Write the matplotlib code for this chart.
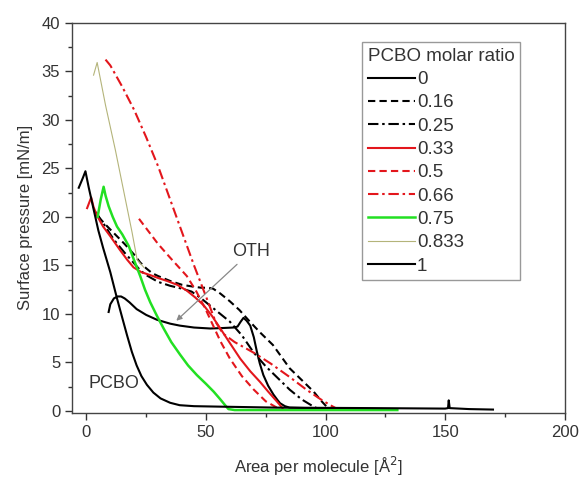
import numpy as np
import matplotlib
matplotlib.use('Agg')
import matplotlib.pyplot as plt
from matplotlib.ticker import MultipleLocator

plt.rcParams['font.family'] = ['Liberation Sans', 'DejaVu Sans']

# -----------------------------------------------------------------------------------
# DATA (read from the reference isotherms)
# -----------------------------------------------------------------------------------
# 0 (OTH)
x_00 = [9.3, 10, 11.5, 13, 14.5, 16, 18, 21, 25, 29.5, 35, 39, 45, 51.8, 57, 61.5, 63.2, 64.5, 65.7, 67, 68.5,
        70, 71.3, 72.5, 74, 76, 78.2, 80, 81, 83, 85, 100, 120]
y_00 = [10.2, 11.0, 11.6, 11.8, 11.8, 11.6, 11.2, 10.5, 9.9, 9.4, 9.0, 8.8, 8.6, 8.5, 8.55, 8.6, 8.7, 9.2, 9.6, 9.3, 8.8,
        7.6, 6.1, 4.9, 3.7, 2.6, 1.7, 1.1, 0.8, 0.5, 0.35, 0.25, 0.2]
# 0.16
x_016 = [5, 8, 12, 16, 20, 22.5, 25, 27.5, 30, 35, 40, 45, 48, 51, 53, 56, 60, 64, 68, 72.6, 78, 85, 90, 95, 98, 101]
y_016 = [20, 19.2, 18.2, 17.2, 16.1, 15.3, 14.7, 14.2, 13.9, 13.4, 13.0, 12.8, 12.7, 12.7, 12.6, 12.1, 11.3, 10.4, 9.3,
         8.1, 6.8, 4.4, 3.2, 2.0, 1.1, 0.3]
# 0.25
x_025 = [4, 6, 8, 10, 12, 16, 20, 22.5, 25, 30, 35, 40, 44, 48, 52, 56, 60, 65, 70, 75, 80, 85, 90, 94, 97]
y_025 = [20.5, 19.7, 19, 18.2, 17.5, 16.3, 15.2, 14.5, 14.0, 13.3, 12.9, 12.6, 12.3, 11.6, 10.8, 10.0, 9.2, 7.8, 6.0,
         4.6, 3.4, 2.2, 1.2, 0.6, 0.2]
# 0.33
x_033 = [0.3, 2, 3, 4.5, 7, 10, 14, 17, 19.7, 23, 26.7, 30, 33.7, 38, 42, 45.5, 49, 52.5, 56, 60, 64.3, 68.5, 72.6,
         76, 79.6, 82]
y_033 = [20.9, 22, 21, 20.1, 19, 18, 16.6, 15.6, 14.8, 14.3, 14.0, 13.7, 13.4, 13.0, 12.4, 11.7, 10.9, 9.8, 8.5, 7.0,
         5.4, 4.1, 3.0, 2.0, 1.0, 0.3]
# 0.5
x_05 = [22, 26, 30, 35, 42, 46, 50, 53, 56, 60, 65, 70, 75, 80]
y_05 = [19.8, 18.5, 17.2, 15.8, 13.9, 12.3, 10.4, 8.8, 7.2, 5.4, 3.6, 2.2, 1.0, 0.3]
# 0.66
x_066 = [8, 10, 15, 20, 25, 30, 35, 40, 45, 50, 54, 57, 62, 70, 77, 85, 92, 98, 102, 105]
y_066 = [36.2, 35.6, 33.4, 31, 28.2, 25.2, 21.8, 18.4, 15.0, 11.8, 9.2, 8.0, 7.1, 6.0, 4.9, 3.5, 2.2, 1.2, 0.6, 0.2]
# 0.75
x_075 = [4.7, 6, 7.2, 8, 9.3, 11, 12.8, 15, 17.7, 20, 22.5, 24.5, 26.7, 29.5, 32.3, 35.5, 39.2, 42.5, 46.2, 50, 53.2,
         56, 58, 59.4, 62, 70, 100, 130]
y_075 = [20.0, 21.8, 23.1, 22.2, 21.1, 20.0, 19.0, 18.2, 17.0, 15.5, 13.9, 12.5, 11.2, 9.8, 8.5, 7.1, 5.8, 4.7, 3.7,
         2.8, 2.0, 1.2, 0.6, 0.2, 0.1, 0.1, 0.1, 0.1]
# 0.833
x_0833 = [3, 4.5, 8, 12.1, 16.3, 19.1, 21.2, 24]
y_0833 = [34.6, 35.9, 31.5, 26.9, 21.8, 18.4, 15.6, 14.8]
# 1 (PCBO)
x_1 = [-3.2, -1.5, -0.4, 1, 3, 5, 7, 10, 12.8, 15, 17, 19, 21, 23, 25.3, 28, 31, 35, 39, 45, 56, 80, 120, 150,
       151.2, 151.5, 151.9, 160, 170]
y_1 = [23, 24, 24.7, 23, 20.8, 18.6, 16.8, 14.3, 11.6, 9.6, 7.8, 6.1, 4.7, 3.6, 2.7, 1.9, 1.3, 0.85, 0.6, 0.5, 0.45,
       0.35, 0.3, 0.25, 0.3, 1.1, 0.3, 0.2, 0.15]

LABELS = ['0', '0.16', '0.25', '0.33', '0.5', '0.66', '0.75', '0.833', '1']

RED   = '#e3161c'
GREEN = '#22e022'
OLIVE = '#b4b47a'
DASH  = (0, (3.5, 2))
DDOT  = (0, (5, 1.8, 1.2, 1.8))

# -----------------------------------------------------------------------------------
# PLOT
# -----------------------------------------------------------------------------------
fig = plt.figure(figsize=(5.81, 4.83), dpi=100)
ax = fig.add_axes([0.124, 0.145, 0.848, 0.808])

ax.plot(x_00, y_00, color='black', lw=1.5, label=LABELS[0])
ax.plot(x_016, y_016, color='black', lw=1.5, ls=DASH, label=LABELS[1])
ax.plot(x_025, y_025, color='black', lw=1.5, ls=DDOT, label=LABELS[2])
ax.plot(x_033, y_033, color=RED, lw=1.5, label=LABELS[3])
ax.plot(x_05, y_05, color=RED, lw=1.5, ls=DASH, label=LABELS[4])
ax.plot(x_066, y_066, color=RED, lw=1.5, ls=DDOT, label=LABELS[5])
ax.plot(x_075, y_075, color=GREEN, lw=1.8, label=LABELS[6])
ax.plot(x_0833, y_0833, color=OLIVE, lw=0.8, label=LABELS[7])
ax.plot(x_1, y_1, color='black', lw=1.5, label=LABELS[8])

ax.set_xlim(-6, 200)
ax.set_ylim(-0.2, 40)
ax.xaxis.set_major_locator(MultipleLocator(50))
ax.xaxis.set_minor_locator(MultipleLocator(25))
ax.yaxis.set_major_locator(MultipleLocator(5))
ax.yaxis.set_minor_locator(MultipleLocator(2.5))
ax.tick_params(which='major', direction='out', length=5, width=1, labelsize=12, colors='#333333')
ax.tick_params(which='minor', direction='out', length=3, width=1, colors='#333333')
for s in ax.spines.values():
    s.set_color('#444444')
    s.set_linewidth(1.0)

ax.set_xlabel('Area per molecule [Å$^2$]', fontsize=12, color='#333333', labelpad=11)
ax.set_ylabel('Surface pressure [mN/m]', fontsize=12, color='#333333', labelpad=6)

# annotations
ax.annotate('OTH', xy=(37.6, 9.3), xytext=(61, 16.0), fontsize=13, color='#333333',
            arrowprops=dict(arrowstyle='-|>', color='#888888', lw=0.9,
                            mutation_scale=8, shrinkA=2, shrinkB=0))
ax.text(1, 2.4, 'PCBO', fontsize=13, color='#333333')

leg = ax.legend(title='PCBO molar ratio', loc='upper right', bbox_to_anchor=(0.91, 0.95),
                fontsize=13.5, title_fontsize=13.5, fancybox=False, framealpha=1,
                edgecolor='#999999', handlelength=2.5, handletextpad=0.1,
                labelspacing=0.33, borderpad=0.3, borderaxespad=0, alignment='left')
leg.get_frame().set_linewidth(1.0)
for t in leg.get_texts():
    t.set_color('#333333')
leg.get_title().set_color('#333333')

plt.savefig('out.png', dpi=100)
